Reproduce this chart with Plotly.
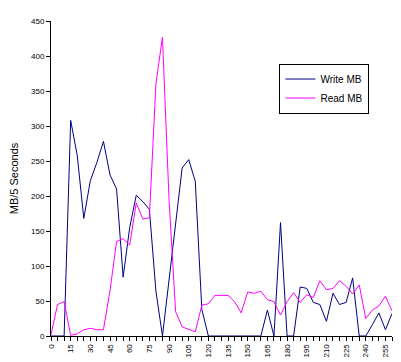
import plotly.graph_objects as go

seconds = list(range(0, 265, 5))
write_mb = [0, 0, 0, 308, 258, 168, 222, 248, 278, 230, 210, 84, 155, 201, 192, 181,
            64, 0, 79, 155, 240, 252, 221, 38, 0, 0, 0, 0, 0, 0, 0, 0, 0, 37, 0, 162,
            0, 0, 70, 68, 48, 45, 21, 61, 45, 48, 83, 0, 0, 16, 33, 9, 32]
read_mb = [2, 45, 49, 1, 3, 9, 11, 9, 9, 65, 135, 139, 130, 190, 167, 169,
           360, 427, 195, 35, 13, 10, 6, 44, 46, 58, 58, 58, 49, 33, 63, 61, 64, 52, 49, 30,
           49, 62, 48, 59, 55, 79, 66, 68, 79, 71, 60, 73, 25, 37, 43, 57, 36]
x_tick_vals = list(range(0, 256, 15))
y_tick_vals = list(range(0, 451, 50))

FONT = "Arial, Liberation Sans, sans-serif"

fig = go.Figure()
fig.add_trace(go.Scatter(x=seconds, y=write_mb, mode="lines", name="Write MB",
                         line=dict(color="#000080", width=1)))
fig.add_trace(go.Scatter(x=seconds, y=read_mb, mode="lines", name="Read MB",
                         line=dict(color="#FF00FF", width=1)))

fig.update_layout(
    width=401, height=362,
    margin=dict(l=43, r=17, t=12.5, b=33.5, autoexpand=False),
    paper_bgcolor="white", plot_bgcolor="white",
    font=dict(family=FONT, color="black", size=8),
    showlegend=True,
    legend=dict(x=0.67, y=0.865, xanchor="left", yanchor="top",
                bordercolor="black", borderwidth=1, bgcolor="white",
                font=dict(size=10, family=FONT), tracegroupgap=0,
                itemwidth=30),
)
fig.update_xaxes(
    range=[0, 260], showgrid=False, zeroline=False,
    showline=True, linecolor="black", linewidth=1,
    tickmode="array", tickvals=x_tick_vals, ticktext=[str(v) for v in x_tick_vals],
    ticks="outside", ticklen=4, tickcolor="black", tickangle=-90,
    tickfont=dict(size=8, family=FONT),
    minor=dict(dtick=5, tick0=0, ticks="outside", ticklen=4, tickcolor="black", showgrid=False),
    automargin=False,
)
fig.update_yaxes(
    range=[0, 450], showgrid=False, zeroline=False,
    showline=True, linecolor="black", linewidth=1,
    tickmode="array", tickvals=y_tick_vals, ticktext=[str(v) for v in y_tick_vals],
    ticks="outside", ticklen=4, tickcolor="black",
    tickfont=dict(size=8, family=FONT),
    title=dict(text="MB/5 Seconds", font=dict(size=11, family=FONT), standoff=11),
    automargin=False,
)
fig.write_html("out.html")
